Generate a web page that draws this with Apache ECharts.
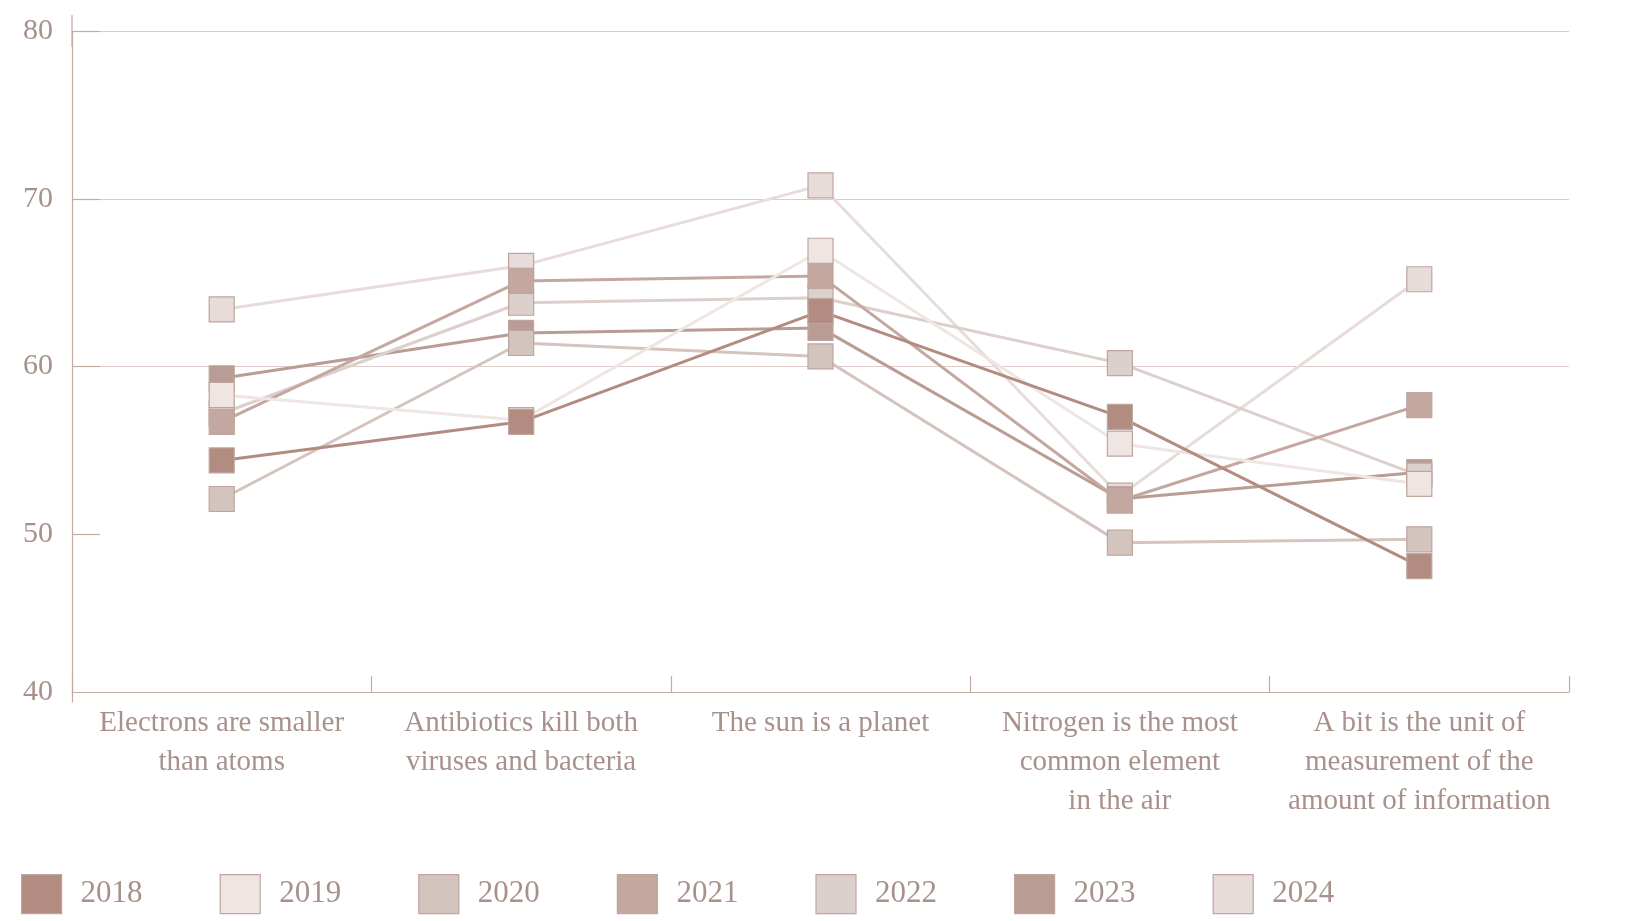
<!DOCTYPE html>
<html>
<head>
<meta charset="utf-8">
<script src="https://cdn.jsdelivr.net/npm/echarts@6/dist/echarts.min.js"></script>
<style>
html,body{margin:0;padding:0;background:#fff;}
#c{width:1634px;height:921px;}
</style>
</head>
<body>
<div id="c"></div>
<script>
const categories = [
  "Electrons are smaller\nthan atoms",
  "Antibiotics kill both\nviruses and bacteria",
  "The sun is a planet",
  "Nitrogen is the most\ncommon element\nin the air",
  "A bit is the unit of\nmeasurement of the\namount of information"
];
const years = ["2018","2019","2020","2021","2022","2023","2024"];
const yTicks = [40, 50, 60, 70, 80];
const v2018 = [54.4, 56.7, 63.3, 57.0, 48.1];
const v2019 = [58.3, 56.8, 66.9, 55.4, 53.0];
const v2020 = [52.1, 61.4, 60.6, 49.5, 49.7];
const v2021 = [56.7, 65.1, 65.4, 52.0, 57.7];
const v2022 = [57.2, 63.8, 64.1, 60.2, 53.5];
const v2023 = [59.3, 62.0, 62.3, 52.1, 53.7];
const v2024 = [63.4, 66.0, 70.8, 52.3, 65.2];
const values = [v2018, v2019, v2020, v2021, v2022, v2023, v2024];
const colors = ["#b28c80","#efe6e4","#d4c4be","#c4a89f","#dcd0cc","#b99c93","#e8dcda"];

const FONT = "'Liberation Serif', 'Times New Roman', serif";
const TXT = "#a8918b";
const AX = '#c4aaa3';

const chart = echarts.init(document.getElementById('c'), null, {renderer:'canvas'});
chart.setOption({
  animation: false,
  backgroundColor: '#ffffff',
  grid: {left: 72, right: 65, top: 31, bottom: 219},
  legend: {
    data: years,
    left: 16,
    top: 869,
    itemWidth: 40,
    itemHeight: 39,
    itemGap: 77,
    icon: 'rect',
    itemStyle: {borderColor: '#bfa59e', borderWidth: 1.2},
    textStyle: {fontFamily: FONT, fontSize: 31, color: TXT, padding: [0,0,0,14]}
  },
  xAxis: {
    type: 'category',
    data: categories,
    boundaryGap: true,
    offset: -10,
    axisLine: {lineStyle: {color: AX, width: 1.2}},
    axisTick: {show: true, inside: true, length: 16, lineStyle: {color: AX, width: 1.2}},
    axisLabel: {fontFamily: FONT, fontSize: 29, color: TXT, lineHeight: 39, margin: 12, interval: 0}
  },
  yAxis: {
    type: 'value',
    min: 40, max: 80, interval: 10,
    axisLine: {show: true, lineStyle: {color: AX, width: 1.2},
      symbol: ['none', 'rect'], symbolSize: [1.2, 32]},
    axisTick: {show: true, inside: true, length: 28, customValues: yTicks.slice(1),
      lineStyle: {color: AX, width: 1.2}},
    axisLabel: {fontFamily: FONT, fontSize: 30, color: TXT, margin: 19,
      customValues: yTicks,
      formatter: v => v === 40 ? '{b|40}' : String(v),
      rich: {b: {fontFamily: FONT, fontSize: 30, color: TXT, padding: [0, 0, 20, 0]}}},
    splitLine: {show: true, lineStyle: {color: ['rgba(0,0,0,0)', '#dccbc6', '#dccbc6', '#dccbc6', '#dccbc6'], width: 1.2}}
  },
  series: years.map((y, i) => ({
    name: y,
    type: 'line',
    data: values[i],
    z: 20 - i,
    symbol: 'rect',
    symbolSize: 25,
    showAllSymbol: true,
    color: colors[i],
    lineStyle: {color: colors[i], width: 3},
    itemStyle: {color: colors[i], borderColor: '#bfa59e', borderWidth: 1.2, opacity: 1},
    emphasis: {disabled: true}
  }))
});
</script>
</body>
</html>
